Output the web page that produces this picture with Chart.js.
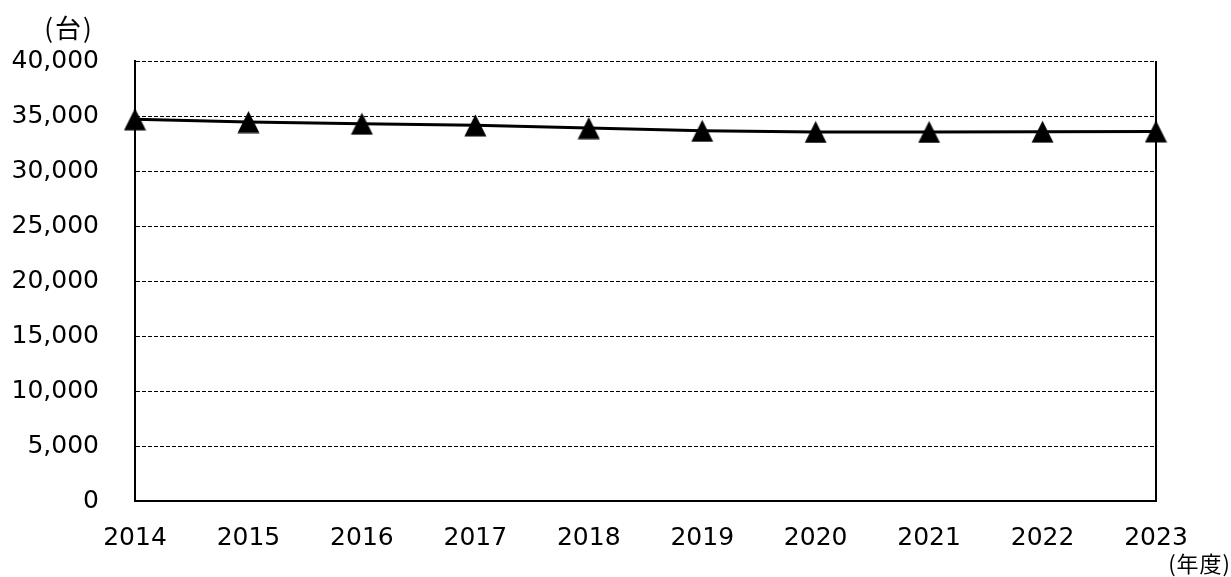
<!DOCTYPE html>
<html>
<head>
<meta charset="utf-8">
<script src="https://cdn.jsdelivr.net/npm/chart.js@4"></script>
<style>
  html, body { margin: 0; padding: 0; background: #fff; }
  #wrap { width: 1231px; height: 577px; position: relative; }
</style>
</head>
<body>
<div id="wrap"><canvas id="myChart"></canvas></div>
<script>
// data
var years = ["2014", "2015", "2016", "2017", "2018", "2019", "2020", "2021", "2022", "2023"];
var units = [34700, 34450, 34300, 34150, 33900, 33650, 33550, 33550, 33570, 33600];
var yMin = 0, yMax = 40000, yStep = 5000;
var unitLabel = "(台)";
var yearLabel = "(年度)";

// triangle marker, centred on the point like the original
var tri = document.createElement('canvas');
tri.width = 23; tri.height = 23;
var tc = tri.getContext('2d');
tc.fillStyle = '#000';
tc.beginPath();
tc.moveTo(11.5, 0.5);
tc.lineTo(22.5, 22.5);
tc.lineTo(0.5, 22.5);
tc.closePath();
tc.fill();

var axisText = {
  id: 'axisText',
  afterDraw: function (chart) {
    var c = chart.ctx;
    c.save();
    c.fillStyle = '#000';
    c.textBaseline = 'middle';
    c.font = '26px "Noto Sans CJK JP"';
    c.letterSpacing = '2px';
    c.textAlign = 'center';
    c.fillText(unitLabel, 69, 28);
    c.font = '22px "Noto Sans CJK JP"';
    c.letterSpacing = '1px';
    c.textAlign = 'right';
    c.fillText(yearLabel, 1231, 564);
    c.restore();
  }
};

var ctxL = document.getElementById("myChart").getContext('2d');
var myLineChart = new Chart(ctxL, {
  type: 'line',
  data: {
    labels: years,
    datasets: [
      {
        data: units,
        borderColor: '#000',
        borderWidth: 3,
        tension: 0,
        pointStyle: tri,
        pointRadius: 11,
        fill: false
      }
    ]
  },
  options: {
    responsive: true,
    maintainAspectRatio: false,
    animation: false,
    layout: { padding: { left: 10, right: 75, top: 61, bottom: 26 } },
    plugins: { legend: { display: false }, tooltip: { enabled: false } },
    scales: {
      x: {
        offset: false,
        grid: {
          display: true,
          drawTicks: false,
          lineWidth: 2,
          color: function (c) {
            return (c.index === years.length - 1) ? '#000' : 'transparent';
          }
        },
        border: { display: true, color: '#000', width: 2 },
        ticks: {
          color: '#000',
          padding: 22,
          maxRotation: 0,
          autoSkip: false,
          font: { family: '"DejaVu Sans"', size: 25 }
        },
        afterFit: function (s) { s.height = 50; }
      },
      y: {
        min: yMin,
        max: yMax,
        grid: { color: '#000', lineWidth: 1, drawTicks: false },
        border: { display: true, color: '#000', width: 2, dash: [4, 2] },
        ticks: {
          stepSize: yStep,
          color: '#000',
          padding: 36,
          font: { family: '"DejaVu Sans"', size: 25 },
          callback: function (v) { return v.toLocaleString('en-US'); }
        },
        afterFit: function (s) { s.width = 125; }
      }
    }
  },
  plugins: [axisText]
});
</script>
</body>
</html>
